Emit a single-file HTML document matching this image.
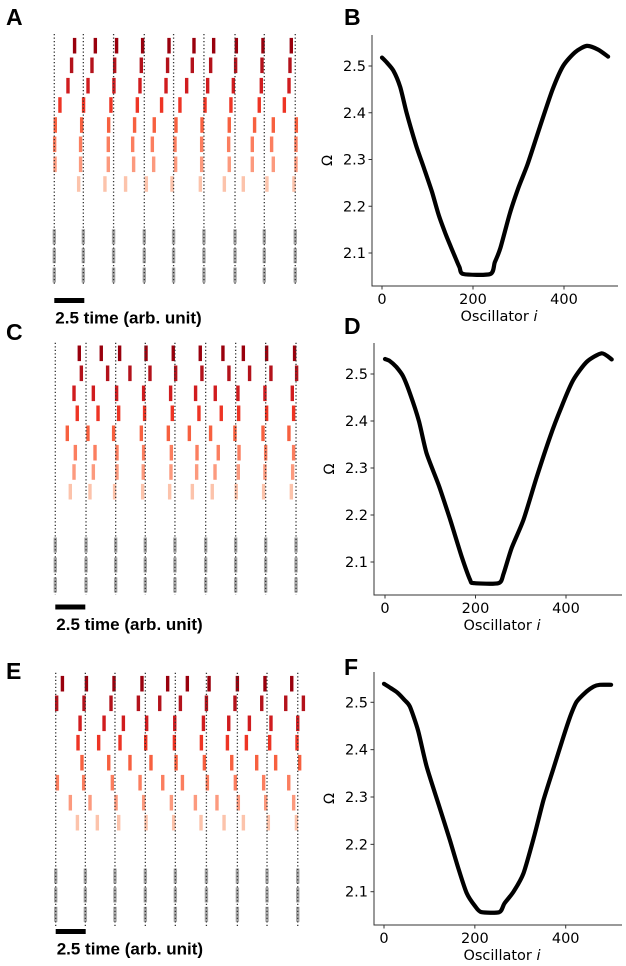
<!DOCTYPE html>
<html><head><meta charset="utf-8">
<style>
html,body{margin:0;padding:0;background:#fff;}
svg{display:block;font-family:"DejaVu Sans","Liberation Sans",sans-serif;}
.lbl{font-family:"Liberation Sans",sans-serif;font-weight:bold;font-size:23px;}
.sb{font-family:"Liberation Sans",sans-serif;font-weight:bold;font-size:17px;}
.tk{font-size:14.5px;fill:#000;}
</style></head>
<body>
<svg id="fig" width="626" height="966" viewBox="0 0 626 966" xmlns="http://www.w3.org/2000/svg">
<text class="lbl" x="6" y="25">A</text>
<text class="lbl" x="344" y="25">B</text>
<text class="lbl" x="6" y="340">C</text>
<text class="lbl" x="344" y="334">D</text>
<text class="lbl" x="6" y="679">E</text>
<text class="lbl" x="344" y="675">F</text>
<g id="layer"></g>
</svg>
<script>
// ---------- Raster data (time in arb. units) ----------
const linesA=[0,2.42,4.94,7.5,9.94,12.47,15.06,17.5,20.08];
const rowsA=[
[1.69,3.42,5.19,7.36,9.56,11.64,13.28,15.17,17.39,19.75],
[1.44,3.14,5.03,7.25,9.44,11.5,13.03,15.11,17.31,19.64],
[1.14,2.81,4.97,7.14,9.31,11.03,12.78,14.92,17.25,19.56],
[0.47,2.44,4.72,6.92,8.94,10.47,12.56,14.72,17.08,19.17],
[0.08,2.28,4.53,6.69,8.33,10.14,12.31,14.58,16.69,18.25,20.17],
[0.03,2.19,4.5,6.53,8.17,10.06,12.28,14.53,16.5,18.11,20.14],
[0.06,2.19,4.5,6.61,8.28,10.11,12.28,14.58,16.5,18.25,20.14],
[2.03,4.22,5.94,7.67,9.81,12.17,14.17,15.75,17.72,19.97]];
const linesC=[0,2.56,5.03,7.5,9.97,12.53,15.03,17.53,20.06];
const rowsC=[
[2,3.83,5.36,7.56,9.83,12.08,13.97,15.67,17.61,19.94],
[2.17,4.36,6.22,7.89,10.03,12.22,14.47,16.19,17.97,20.11],
[1.56,3.17,5.11,7.36,9.61,11.69,13.33,15.22,17.47,19.75],
[1.83,3.56,5.28,7.44,9.75,11.97,13.83,15.28,17.61,19.86],
[1,2.72,4.86,7.17,9.42,11.17,12.94,14.97,17.31,19.47],
[1.67,3.31,5.14,7.36,9.67,11.81,13.58,15.31,17.53,19.86],
[1.56,3.17,5.14,7.33,9.64,11.78,13.31,15.25,17.47,19.78],
[1.25,2.89,4.94,7.28,9.53,11.42,13.08,15.08,17.36,19.67]];
const linesE=[0,2.47,4.94,7.47,9.97,12.56,15.14,17.61,20.17];
const rowsE=[
[0.56,2.56,4.86,7.19,9.33,10.97,12.78,15.14,17.44,19.67],
[0.08,2.36,4.61,6.89,8.67,10.39,12.56,14.94,17.17,19.17,20.64],
[2.03,4.03,5.64,7.58,9.92,12.31,14.42,16.14,17.94,20.17],
[1.86,3.58,5.36,7.5,9.89,12.14,14.31,15.89,17.83,20.11],
[2.19,4.42,6.19,7.94,10.03,12.39,14.67,16.75,18.33,20.33],
[0.14,2.33,4.72,7.03,8.92,10.56,12.64,14.97,17.33,19.42],
[1.22,2.86,5.03,7.33,9.64,11.64,13.44,15.22,17.5,19.83],
[1.81,3.47,5.25,7.53,9.83,12.11,14.03,15.64,17.72,20.06]];
// ---------- Omega data ----------
const idxB=[0,10,25,40,54,75,91,110,125,140,157,170,179,238,248,260,281,300,320,347,375,398,425,450,475,497];
const omB=[2.518,2.508,2.49,2.455,2.40,2.33,2.285,2.23,2.18,2.14,2.10,2.07,2.055,2.055,2.08,2.11,2.185,2.24,2.29,2.37,2.45,2.50,2.53,2.543,2.535,2.52];
const idxD=[0,10,25,40,55,75,92,120,144,170,188,196,251,262,280,306,335,365,390,416,446,479,501];
const omD=[2.532,2.528,2.515,2.495,2.459,2.40,2.331,2.26,2.19,2.11,2.062,2.055,2.055,2.075,2.13,2.19,2.28,2.367,2.43,2.487,2.526,2.544,2.531];
const idxF=[0,15,30,45,57,75,94,120,145,165,182,200,214,254,265,285,307,330,351,373,395,410,424,445,461,475,500];
const omF=[2.539,2.53,2.52,2.505,2.491,2.44,2.364,2.285,2.209,2.145,2.097,2.07,2.057,2.057,2.075,2.1,2.139,2.215,2.293,2.36,2.427,2.47,2.501,2.522,2.533,2.537,2.537];
const yTicks=[2.1,2.2,2.3,2.4,2.5];
const xTicks=[0,200,400];

const NS="http://www.w3.org/2000/svg";
const layer=document.getElementById('layer');
function mk(tag,attrs,parent){const e=document.createElementNS(NS,tag);for(const k in attrs)e.setAttribute(k,attrs[k]);(parent||layer).appendChild(e);return e;}
const reds=['#99000d','#b3121b','#d01c1f','#ee3424','#f7603f','#fb7e5f','#fc9a7e','#fcc3ab'];

function raster(p){
  const g=mk('g',{});
  
  
  const X=t=>p.x0+t*12;
  p.lines.forEach(t=>{
    for(let k=0;k<3;k++){
      const r=mk('rect',{x:X(t)-1.7,y:p.gray[k]-7.5,width:3.4,height:15,fill:'#a8a8a8'},g);
      
      
    }
  });
  p.rows.forEach((row,ri)=>{
    row.forEach(t=>{
      const r=mk('rect',{x:X(t)-1.7,y:p.rowY[ri]-7.8,width:3.4,height:15.6,fill:reds[ri]},g);
      
      
    });
  });
  p.lines.forEach(t=>{
    const l=mk('line',{x1:X(t),x2:X(t),y1:p.top,y2:p.bot,stroke:'#333','stroke-width':1.3,'stroke-dasharray':'1.3 2.2'},g);
    
    
  });
  const sb=mk('rect',{x:X(0),y:p.sbY-2.5,width:30,height:5,fill:'#000'},g);
  
  
  const tx=mk('text',{x:X(0)+1,y:p.sbY+23,class:'sb'},g);
  tx.textContent='2.5 time (arb. unit)';
  
  
}
function smooth(pts){
  let d='M'+pts[0][0].toFixed(1)+' '+pts[0][1].toFixed(1);
  const k=0.12;
  for(let i=0;i<pts.length-1;i++){
    const p0=pts[Math.max(0,i-1)],p1=pts[i],p2=pts[i+1],p3=pts[Math.min(pts.length-1,i+2)];
    const c1=[p1[0]+(p2[0]-p0[0])*k,p1[1]+(p2[1]-p0[1])*k];
    const c2=[p2[0]-(p3[0]-p1[0])*k,p2[1]-(p3[1]-p1[1])*k];
    d+=` C${c1[0].toFixed(1)} ${c1[1].toFixed(1)} ${c2[0].toFixed(1)} ${c2[1].toFixed(1)} ${p2[0].toFixed(1)} ${p2[1].toFixed(1)}`;
  }
  return d;
}
function omega(p){
  const g=mk('g',{});
  
  
  const X=i=>p.x0+(i/400)*(p.x400-p.x0);
  const Y=v=>p.y25+(2.5-v)/0.4*(p.y21-p.y25);
  const ax=mk('path',{d:`M${p.sx} ${p.top} V${p.bot} H${p.right}`,fill:'none',stroke:'#333','stroke-width':1},g);
  
  
  yTicks.forEach(v=>{
    mk('line',{x1:p.sx-3.5,x2:p.sx,y1:Y(v),y2:Y(v),stroke:'#333'},g);
    const t=mk('text',{x:p.sx-6,y:Y(v)+5,'text-anchor':'end',class:'tk'},g);
    t.textContent=v.toFixed(1);
    
    
  });
  xTicks.forEach(v=>{
    mk('line',{x1:X(v),x2:X(v),y1:p.bot,y2:p.bot+3.5,stroke:'#333'},g);
    const t=mk('text',{x:X(v),y:p.bot+18,'text-anchor':'middle',class:'tk'},g);
    t.textContent=String(v);
    
    
  });
  const yl=mk('text',{x:0,y:0,'text-anchor':'middle',class:'tk',transform:`translate(${p.sx-40},${(p.top+p.bot)/2}) rotate(-90)`},g);
  yl.textContent='Ω';
  
  
  const xl=mk('text',{x:(p.sx+p.right)/2+4,y:p.bot+35,'text-anchor':'middle',class:'tk'},g);
  xl.innerHTML='Oscillator <tspan font-style="italic">i</tspan>';
  
  
  const pts=p.idx.map((i,k)=>[X(i),Y(p.om[k])]);
  const ln=mk('path',{d:smooth(pts),fill:'none',stroke:'#000','stroke-width':4.2,'stroke-linejoin':'round','stroke-linecap':'round'},g);
  
  
}
raster({name:'raster-a',x0:54.3,lines:linesA,rows:rowsA,rowY:[45.7,65.3,85.7,105,125,144.3,164.3,184],gray:[236.7,255.7,275],top:34,bot:286,sbY:300.5});
raster({name:'raster-c',x0:55.3,lines:linesC,rows:rowsC,rowY:[353.3,373.3,393.3,413.3,433.3,452.7,472,491.7],gray:[545,565,585],top:342.7,bot:595,sbY:607});
raster({name:'raster-e',x0:55.7,lines:linesE,rows:rowsE,rowY:[683.7,703.3,723.3,742.7,762.7,782.7,802.7,822.7],gray:[876,895,914.3],top:672.7,bot:926,sbY:931.5});
omega({name:'omega-b',idx:idxB,om:omB,sx:372,top:35,bot:286,right:618,x0:382,x400:564,y25:66,y21:253});
omega({name:'omega-d',idx:idxD,om:omD,sx:374,top:343,bot:595,right:622,x0:385,x400:566,y25:374,y21:562});
omega({name:'omega-f',idx:idxF,om:omF,sx:374,top:672,bot:925,right:622,x0:384,x400:565.7,y25:702.3,y21:891.7});
</script>
</body></html>
